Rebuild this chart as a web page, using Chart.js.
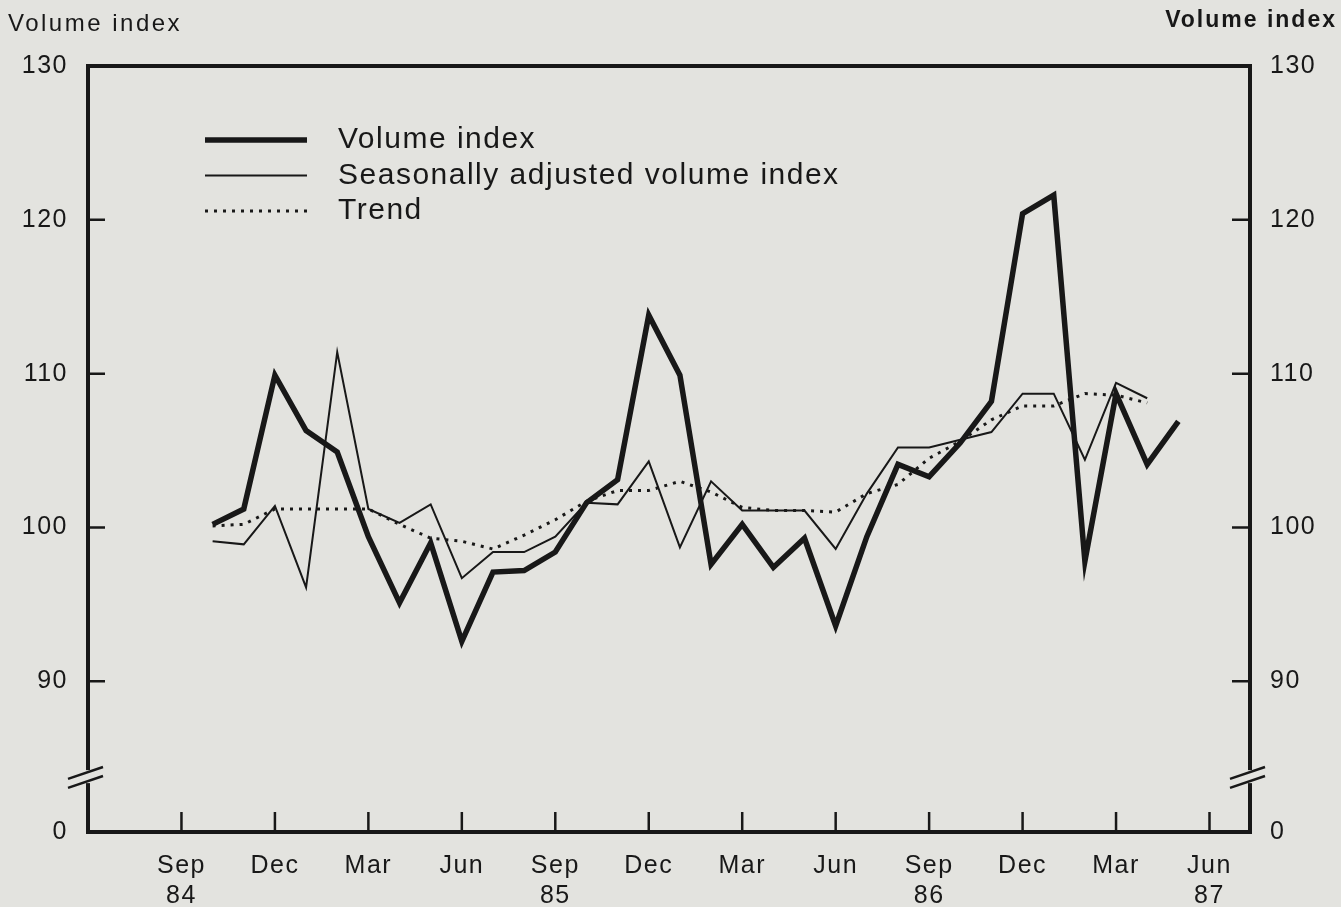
<!DOCTYPE html>
<html>
<head>
<meta charset="utf-8">
<title>Volume index</title>
<script src="https://cdn.jsdelivr.net/npm/chart.js@4.4.0/dist/chart.umd.min.js"></script>
<style>
  html, body { margin: 0; padding: 0; background: #e3e3df; }
  canvas { display: block; }
</style>
</head>
<body>
<canvas id="chart" width="1341" height="907"></canvas>
<script>
// Data (monthly, Oct 84 - May 87)
const months = [
    'Oct 84', 'Nov 84', 'Dec 84', 'Jan 85', 'Feb 85', 'Mar 85', 'Apr 85', 'May 85',
    'Jun 85', 'Jul 85', 'Aug 85', 'Sep 85', 'Oct 85', 'Nov 85', 'Dec 85', 'Jan 86',
    'Feb 86', 'Mar 86', 'Apr 86', 'May 86', 'Jun 86', 'Jul 86', 'Aug 86', 'Sep 86',
    'Oct 86', 'Nov 86', 'Dec 86', 'Jan 87', 'Feb 87', 'Mar 87', 'Apr 87', 'May 87'
];
const volumeIndex = [
    100.2, 101.2, 109.9, 106.3, 104.9, 99.4, 95.1, 99.0,
    92.6, 97.1, 97.2, 98.4, 101.6, 103.1, 113.8, 109.9,
    97.6, 100.2, 97.4, 99.3, 93.6, 99.4, 104.1, 103.3,
    105.5, 108.2, 120.4, 121.6, 97.8, 108.7, 104.1, 106.9
];
const seasonallyAdjusted = [
    99.1, 98.9, 101.4, 96.1, 111.4, 101.2, 100.3, 101.5,
    96.7, 98.4, 98.4, 99.4, 101.6, 101.5, 104.3, 98.7,
    103.0, 101.1, 101.1, 101.1, 98.6, 102.2, 105.2, 105.2,
    105.7, 106.2, 108.7, 108.7, 104.4, 109.4, 108.4
];
const trend = [
    100.1, 100.2, 101.2, 101.2, 101.2, 101.2, 100.2, 99.3,
    99.1, 98.6, 99.5, 100.5, 101.7, 102.4, 102.4, 103.0,
    102.3, 101.3, 101.1, 101.1, 101.0, 102.2, 102.8, 104.5,
    105.6, 107.0, 107.9, 107.9, 108.7, 108.6, 108.1
];

// Axis ticks (x counted in months after Sep 84)
const xTickMonths = [0, 3, 6, 9, 12, 15, 18, 21, 24, 27, 30, 33];
const xTickLabels = [['Sep', '84'], 'Dec', 'Mar', 'Jun', ['Sep', '85'], 'Dec', 'Mar', 'Jun', ['Sep', '86'], 'Dec', 'Mar', ['Jun', '87']];
const yTickValues = [80.2, 90, 100, 110, 120, 130];
const yTickLabels = ['0', '90', '100', '110', '120', '130'];
const axisBreakAt = 83.8;
const firstMonth = 1; // Oct 84

// Styles
const paper = '#e3e3df';
const ink = '#181818';
const tickFont = { family: "'Liberation Sans', Arial, sans-serif", size: 25 };

function toPoints(values) {
    return values.map((v, i) => ({ x: firstMonth + i, y: v }));
}

function yScaleOptions(position, width) {
    return {
        type: 'linear',
        position: position,
        min: yTickValues[0],
        max: yTickValues[yTickValues.length - 1],
        afterBuildTicks: scale => { scale.ticks = yTickValues.map(value => ({ value })); },
        afterFit: scale => { scale.width = width; },
        ticks: {
            callback: (value, index) => yTickLabels[index],
            font: tickFont,
            color: ink,
            padding: 20
        },
        grid: { display: false, drawTicks: false },
        border: { display: false }
    };
}

// Plugins
const paperPlugin = {
    id: 'paper',
    beforeDraw(chart) {
        const c = chart.ctx;
        c.save();
        c.fillStyle = paper;
        c.fillRect(0, 0, chart.width, chart.height);
        c.restore();
        c.letterSpacing = '1.5px';
    }
};

function drawBreak(c, x, y) {
    const gap = 9, slope = 0.34;
    c.fillStyle = paper;
    c.fillRect(x - 4, y - gap / 2 - 2, 8, gap + 4);
    c.lineWidth = 2.5;
    [-gap / 2, gap / 2].forEach(off => {
        c.beginPath();
        c.moveTo(x - 20, y + off + 20 * slope);
        c.lineTo(x + 15, y + off - 15 * slope);
        c.stroke();
    });
}

const framePlugin = {
    id: 'frame',
    afterDraw(chart) {
        const c = chart.ctx;
        const a = chart.chartArea;
        const { x, y } = chart.scales;
        c.save();
        c.strokeStyle = ink;
        c.lineCap = 'square';
        c.lineWidth = 4;
        c.strokeRect(a.left, a.top, a.right - a.left, a.bottom - a.top);

        // inward tick marks
        c.lineWidth = 2.5;
        c.lineCap = 'butt';
        x.ticks.forEach(t => {
            const px = x.getPixelForValue(t.value);
            c.beginPath();
            c.moveTo(px, a.bottom);
            c.lineTo(px, a.bottom - 20);
            c.stroke();
        });
        y.ticks.forEach(t => {
            if (t.value <= yTickValues[0] || t.value >= yTickValues[yTickValues.length - 1]) return;
            const py = y.getPixelForValue(t.value);
            c.beginPath();
            c.moveTo(a.left, py);
            c.lineTo(a.left + 17, py);
            c.moveTo(a.right, py);
            c.lineTo(a.right - 18, py);
            c.stroke();
        });

        // axis breaks
        const by = y.getPixelForValue(axisBreakAt);
        drawBreak(c, a.left, by);
        drawBreak(c, a.right, by);

        // axis titles
        c.fillStyle = ink;
        c.textBaseline = 'alphabetic';
        c.letterSpacing = '2.5px';
        c.font = "24px 'Liberation Sans', Arial, sans-serif";
        c.textAlign = 'left';
        c.fillText('Volume index', 8, 31);
        c.letterSpacing = '2px';
        c.font = "bold 23px 'Liberation Sans', Arial, sans-serif";
        c.textAlign = 'right';
        c.fillText('Volume index', chart.width - 4, 27);

        // legend
        c.letterSpacing = '1.5px';
        c.font = "30px 'Liberation Sans', Arial, sans-serif";
        c.textAlign = 'left';
        chart.data.datasets.forEach((ds, i) => {
            const base = a.top + 82 + i * 35.5;
            c.save();
            c.strokeStyle = ds.borderColor;
            c.lineWidth = ds.borderWidth;
            c.setLineDash(ds.borderDash || []);
            c.beginPath();
            c.moveTo(a.left + 117, base - 8);
            c.lineTo(a.left + 219, base - 8);
            c.stroke();
            c.restore();
            c.fillText(ds.label, a.left + 250, base);
        });
        c.restore();
    }
};

// Chart
const ctx = document.getElementById('chart');

new Chart(ctx, {
    type: 'line',
    data: {
        datasets: [{
            label: 'Volume index',
            data: toPoints(volumeIndex),
            borderColor: ink,
            borderWidth: 5.5,
            borderJoinStyle: 'miter',
            pointRadius: 0,
            tension: 0
        }, {
            label: 'Seasonally adjusted volume index',
            data: toPoints(seasonallyAdjusted),
            borderColor: ink,
            borderWidth: 2,
            borderJoinStyle: 'miter',
            pointRadius: 0,
            tension: 0
        }, {
            label: 'Trend',
            data: toPoints(trend),
            borderColor: ink,
            borderWidth: 3,
            borderDash: [3, 6],
            pointRadius: 0,
            tension: 0
        }]
    },
    options: {
        responsive: false,
        animation: false,
        devicePixelRatio: 1,
        layout: { padding: { top: 66, left: 0, right: 0, bottom: 0 } },
        plugins: {
            legend: { display: false },
            tooltip: { enabled: false }
        },
        scales: {
            x: {
                type: 'linear',
                min: -3,
                max: 34.3,
                afterBuildTicks: scale => { scale.ticks = xTickMonths.map(value => ({ value })); },
                afterFit: scale => { scale.height = 75; },
                ticks: {
                    callback: (value, index) => xTickLabels[index],
                    font: tickFont,
                    color: ink,
                    padding: 19,
                    maxRotation: 0,
                    autoSkip: false
                },
                grid: { display: false, drawTicks: false },
                border: { display: false }
            },
            y: yScaleOptions('left', 88),
            y2: yScaleOptions('right', 91)
        }
    },
    plugins: [paperPlugin, framePlugin]
});
</script>
</body>
</html>
